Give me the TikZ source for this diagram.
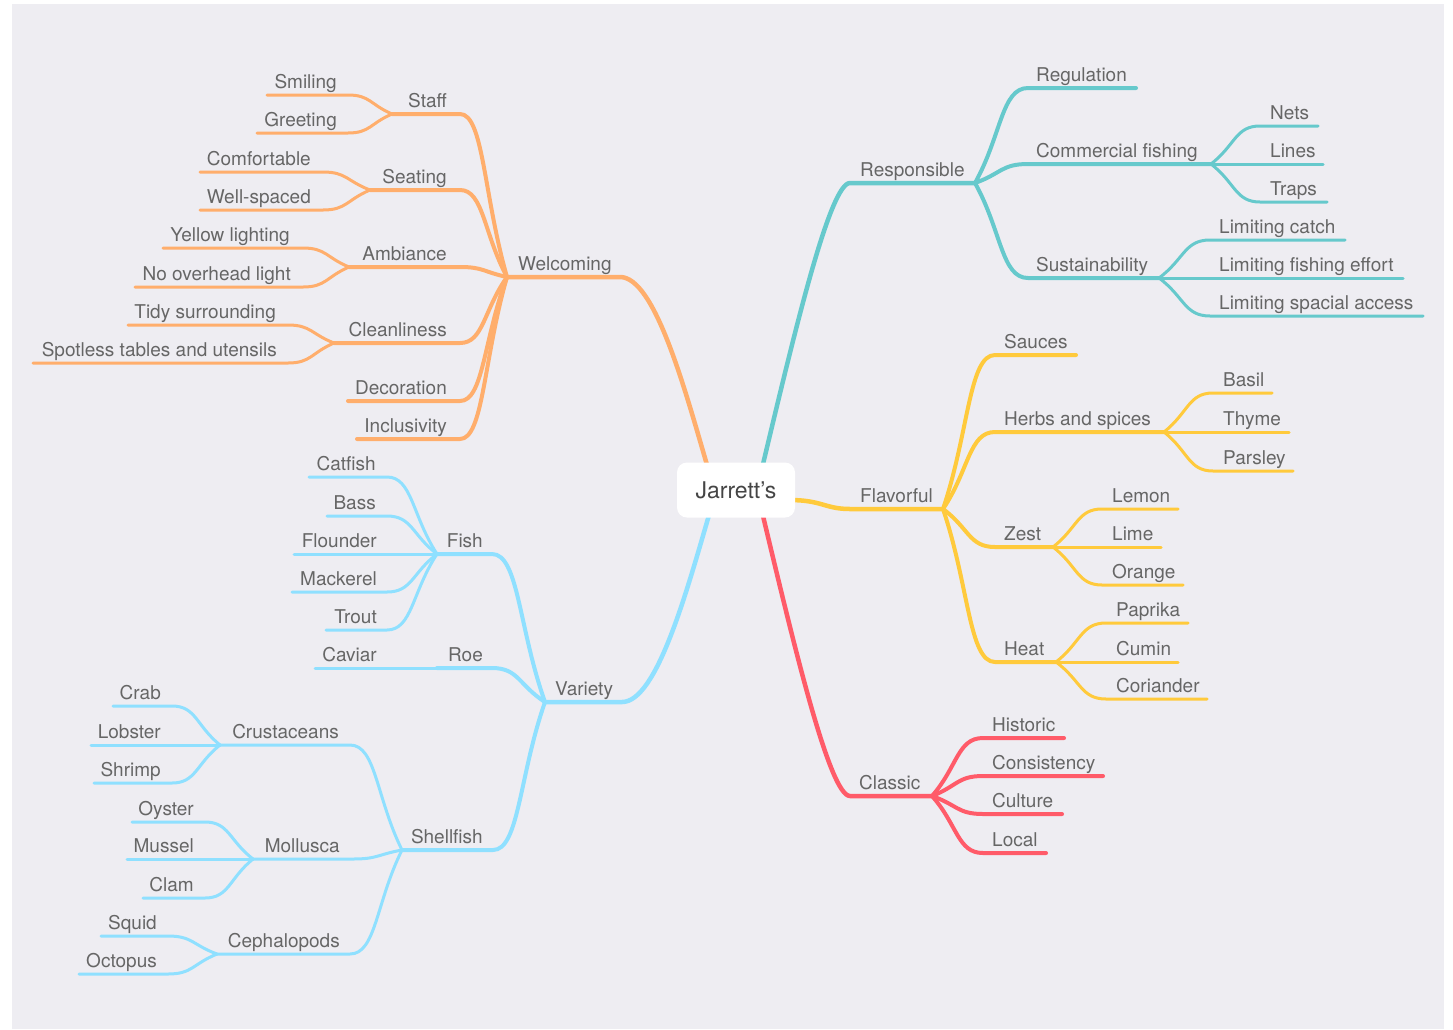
\documentclass[tikz,border=0pt]{standalone}
\usepackage{fontspec}
\setmainfont{TeX Gyre Heros}
\usetikzlibrary{calc}
\definecolor{bgc}{HTML}{EEEDF2}
\definecolor{orng}{HTML}{FFAE6C}
\definecolor{tealc}{HTML}{66C9CC}
\definecolor{yell}{HTML}{FFCA3C}
\definecolor{redc}{HTML}{FF5B69}
\definecolor{lblue}{HTML}{8FE0FF}
\definecolor{txt}{HTML}{666666}
\definecolor{ctxt}{HTML}{454545}
\pgfdeclarelayer{bg}
\pgfsetlayers{bg,main}
\tikzset{
  lbl/.style={font=\fontsize{19}{22}\selectfont, text=txt, inner sep=0pt},
  mainln/.style={line width=4.5pt, line cap=round, line join=round},
  subln/.style={line width=4pt, line cap=round, line join=round},
  leafln/.style={line width=3pt, line cap=round, line join=round},
}
% right-anchored label: name, lineY, attachX, textLeftX, junctionX, text
\newcommand\RT[6]{%
  \coordinate (#1-a) at (#3,#2);
  \coordinate (#1-j) at (#5,#2);
  \node[lbl,anchor=base west] (#1) at (#4,#2-6.5) {#6};}
% left-anchored label: name, lineY, attachX, textRightX, junctionX, text
\newcommand\LT[6]{%
  \coordinate (#1-a) at (#3,#2);
  \coordinate (#1-j) at (#5,#2);
  \node[lbl,anchor=base east] (#1) at (#4,#2-6.5) {#6};}
% connector: style, parent, child
\newcommand\conn[3]{%
  \draw[#1] let \p1=(#2-j), \p2=(#3-a) in
    (\p1) .. controls ({0.5*\x1+0.5*\x2},{0.5*\y1+0.5*\y2}) and ({0.5*\x1+0.5*\x2},\y2) .. (\p2) -- (#3-j);}
\begin{document}
\begin{tikzpicture}[x=1pt,y=-1pt]
\useasboundingbox (0,0) rectangle (1453,1029);
\node[fill=white, rounded corners=10pt, minimum width=118pt, minimum height=55pt, inner sep=0pt,
      font=\fontsize{23}{26}\selectfont, text=ctxt] (c) at (736,490) {Jarrett’s};
% ---------- right side ----------
\RT{resp}{183}{850}{860}{975}{Responsible}
\RT{reg}{88}{1028}{1036}{1136}{Regulation}
\RT{comm}{164}{1028}{1036}{1211}{Commercial fishing}
\RT{sust}{278}{1028}{1036}{1159}{Sustainability}
\RT{nets}{126}{1260}{1270}{1318}{Nets}
\RT{lines}{164}{1260}{1270}{1323}{Lines}
\RT{traps}{202}{1260}{1270}{1327}{Traps}
\RT{lcatch}{240}{1210}{1219}{1345}{Limiting catch}
\RT{leffort}{278}{1210}{1219}{1403}{Limiting fishing effort}
\RT{laccess}{316}{1210}{1219}{1423}{Limiting spacial access}
\RT{flav}{509}{850}{860}{943}{Flavorful}
\RT{sauces}{355}{995}{1004}{1076}{Sauces}
\RT{herbs}{432}{995}{1004}{1164}{Herbs and spices}
\RT{zest}{547}{995}{1004}{1053}{Zest}
\RT{heat}{662}{995}{1004}{1056}{Heat}
\RT{basil}{393}{1213}{1223}{1272}{Basil}
\RT{thyme}{432}{1213}{1223}{1289}{Thyme}
\RT{parsley}{471}{1213}{1223}{1293}{Parsley}
\RT{lemon}{509}{1102}{1112}{1178}{Lemon}
\RT{lime}{547}{1102}{1112}{1161}{Lime}
\RT{orange}{585}{1102}{1112}{1183}{Orange}
\RT{paprika}{623}{1106}{1116}{1188}{Paprika}
\RT{cumin}{662}{1106}{1116}{1178}{Cumin}
\RT{coriander}{699}{1106}{1116}{1207}{Coriander}
\RT{classic}{796}{850}{859}{932}{Classic}
\RT{historic}{738}{983}{992}{1064}{Historic}
\RT{consist}{776}{983}{992}{1103}{Consistency}
\RT{culture}{814}{983}{992}{1062}{Culture}
\RT{local}{853}{983}{992}{1046}{Local}
% ---------- left side ----------
\RT{welc}{277}{620}{518}{507}{Welcoming}
\LT{staff}{114}{460}{447}{392}{Staff}
\LT{seating}{190}{460}{447}{370}{Seating}
\LT{ambiance}{267}{460}{447}{349}{Ambiance}
\LT{clean}{343}{460}{447}{334}{Cleanliness}
\LT{decor}{401}{460}{447}{348}{Decoration}
\LT{incl}{439}{460}{447}{357}{Inclusivity}
\LT{smiling}{95}{348}{337}{267}{Smiling}
\LT{greeting}{133}{348}{337}{257}{Greeting}
\LT{comfort}{172}{323}{311}{200}{Comfortable}
\LT{wellsp}{210}{323}{311}{200}{Well-spaced}
\LT{yellowl}{248}{303}{290}{163}{Yellow lighting}
\LT{nooverh}{287}{303}{291}{135}{No overhead light}
\LT{tidy}{325}{288}{276}{128}{Tidy surrounding}
\LT{spotless}{363}{288}{277}{33}{Spotless tables and utensils}
\RT{variety}{702}{622}{555}{545}{Variety}
\LT{fish}{554}{492}{483}{437}{Fish}
\LT{roe}{668}{492}{483}{437}{Roe}
\LT{shell}{850}{493}{483}{402}{Shellfish}
\LT{catfish}{477}{387}{376}{309}{Catfish}
\LT{bass}{516}{387}{376}{327}{Bass}
\LT{flounder}{554}{387}{377}{294}{Flounder}
\LT{mackerel}{592}{387}{377}{292}{Mackerel}
\LT{trout}{630}{387}{377}{326}{Trout}
\LT{caviar}{668}{387}{377}{315}{Caviar}
\LT{crust}{745}{350}{339}{220}{Crustaceans}
\LT{moll}{859}{353}{340}{253}{Mollusca}
\LT{ceph}{954}{350}{340}{217}{Cephalopods}
\LT{crab}{706}{172}{161}{113}{Crab}
\LT{lobster}{745}{172}{161}{91}{Lobster}
\LT{shrimp}{783}{172}{161}{94}{Shrimp}
\LT{oyster}{822}{205}{194}{132}{Oyster}
\LT{mussel}{859}{205}{194}{127}{Mussel}
\LT{clam}{898}{205}{194}{143}{Clam}
\LT{squid}{936}{168}{157}{101}{Squid}
\LT{octopus}{974}{168}{157}{79}{Octopus}
\begin{pgfonlayer}{bg}
\fill[bgc] (12,4) rectangle (1444,1029);
% main branches
\draw[tealc,mainln] ($(c.north)+(26,6)$) .. controls (795,330) and (830,183) .. (resp-a) -- (resp-j);
\draw[yell,mainln] ($(c.east)+(-6,10)$) .. controls (822,500) and (825,509) .. (flav-a) -- (flav-j);
\draw[redc,mainln] ($(c.south)+(26,-6)$) .. controls (795,650) and (830,796) .. (classic-a) -- (classic-j);
\draw[orng,mainln] ($(c.north)+(-28,6)$) .. controls (685,390) and (655,277) .. (welc-a) -- (welc-j);
\draw[lblue,mainln] ($(c.south)+(-26,-6)$) .. controls (687,590) and (657,702) .. (variety-a) -- (variety-j);
% responsible
\foreach \k in {reg,comm,sust} {\conn{tealc,subln}{resp}{\k}}
\foreach \k in {nets,lines,traps} {\conn{tealc,leafln}{comm}{\k}}
\foreach \k in {lcatch,leffort,laccess} {\conn{tealc,leafln}{sust}{\k}}
% flavorful
\foreach \k in {sauces,herbs,zest,heat} {\conn{yell,subln}{flav}{\k}}
\foreach \k in {basil,thyme,parsley} {\conn{yell,leafln}{herbs}{\k}}
\foreach \k in {lemon,lime,orange} {\conn{yell,leafln}{zest}{\k}}
\foreach \k in {paprika,cumin,coriander} {\conn{yell,leafln}{heat}{\k}}
% classic
\foreach \k in {historic,consist,culture,local} {\conn{redc,subln}{classic}{\k}}
% welcoming
\foreach \k in {staff,seating,ambiance,clean,decor,incl} {\conn{orng,subln}{welc}{\k}}
\foreach \k in {smiling,greeting} {\conn{orng,leafln}{staff}{\k}}
\foreach \k in {comfort,wellsp} {\conn{orng,leafln}{seating}{\k}}
\foreach \k in {yellowl,nooverh} {\conn{orng,leafln}{ambiance}{\k}}
\foreach \k in {tidy,spotless} {\conn{orng,leafln}{clean}{\k}}
% variety
\foreach \k in {fish,roe,shell} {\conn{lblue,subln}{variety}{\k}}
\foreach \k in {catfish,bass,flounder,mackerel,trout} {\conn{lblue,leafln}{fish}{\k}}
\conn{lblue,leafln}{roe}{caviar}
\foreach \k in {crust,moll,ceph} {\conn{lblue,leafln}{shell}{\k}}
\foreach \k in {crab,lobster,shrimp} {\conn{lblue,leafln}{crust}{\k}}
\foreach \k in {oyster,mussel,clam} {\conn{lblue,leafln}{moll}{\k}}
\foreach \k in {squid,octopus} {\conn{lblue,leafln}{ceph}{\k}}
\end{pgfonlayer}
\end{tikzpicture}
\end{document}
